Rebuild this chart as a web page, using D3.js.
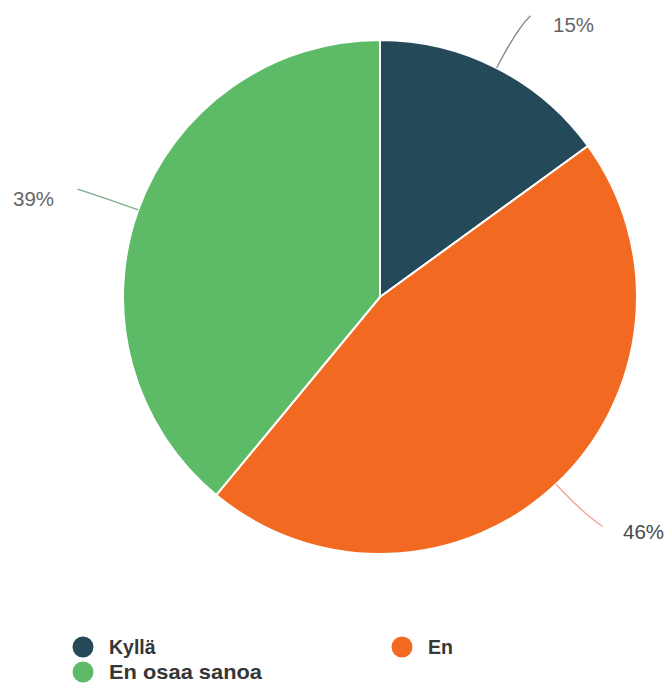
<!DOCTYPE html>
<html>
<head>
<meta charset="utf-8">
<script src="https://cdn.jsdelivr.net/npm/d3@7"></script>
<style>
  html, body { margin: 0; padding: 0; background: #fff; }
  svg { display: block; }
</style>
</head>
<body>
<div id="chart"></div>
<script>
// Survey answers (percent)
const categories = ["Kyllä", "En", "En osaa sanoa"];
const values = [15, 46, 39];
const labels = ["15%", "46%", "39%"];
const colors = ["#244a5a", "#f26a21", "#5dbb68"];

const width = 671, height = 683;
const cx = 380, cy = 297, radius = 257;

const svg = d3.select("#chart").append("svg")
  .attr("width", width).attr("height", height);

const pie = d3.pie().sort(null).value(d => d)(values);
const arc = d3.arc().innerRadius(0).outerRadius(radius);

const g = svg.append("g").attr("transform", `translate(${cx},${cy})`);

g.selectAll("path.slice").data(pie).join("path")
  .attr("class", "slice")
  .attr("d", arc)
  .attr("fill", (d, i) => colors[i])
  .attr("stroke", "#fff")
  .attr("stroke-width", 2);

// Connector lines: leave the rim at the slice midpoint, bend towards the label
const lineColors = ["#8c8c8c", "#f0a89e", "#7fab8c"];
const labelLayout = [
  { rEnd: 319, da: 0.020, rCtl: 300, tx: 553, ty: 32 },
  { rEnd: 320, da: -0.017, rCtl: 300, tx: 623, ty: 539 },
  { rEnd: 321, da: -0.003, rCtl: 290, tx: 13, ty: 206 }
];
const polar = (a, r) => [Math.sin(a) * r, -Math.cos(a) * r];

pie.forEach((d, i) => {
  const L = labelLayout[i];
  const mid = (d.startAngle + d.endAngle) / 2;
  const p0 = polar(mid, radius);
  const pc = polar(mid, L.rCtl);
  const p1 = polar(mid + L.da, L.rEnd);
  const path = d3.path();
  path.moveTo(p0[0], p0[1]);
  path.quadraticCurveTo(pc[0], pc[1], p1[0], p1[1]);
  g.append("path")
    .attr("d", path.toString())
    .attr("fill", "none")
    .attr("stroke", lineColors[i])
    .attr("stroke-width", 1.4);
  svg.append("text")
    .attr("x", L.tx).attr("y", L.ty)
    .attr("font-family", "'Liberation Sans', Arial, sans-serif")
    .attr("font-size", 20.5)
    .attr("fill", i === 1 ? "#4a4a4a" : "#666")
    .text(labels[i]);
});

// Legend (second row is set a little wider)
const legendPos = [[83, 647], [402, 647], [83, 672]];
const legendWidth = [null, null, 153];
const legend = svg.append("g");
categories.forEach((c, i) => {
  const [x, y] = legendPos[i];
  legend.append("circle")
    .attr("cx", x).attr("cy", y).attr("r", 10.5)
    .attr("fill", colors[i]);
  const t = legend.append("text")
    .attr("x", x + 26).attr("y", y + 7)
    .attr("font-family", "'Liberation Sans', Arial, sans-serif")
    .attr("font-size", i === 2 ? 20.5 : 19.5)
    .attr("font-weight", "bold")
    .attr("fill", "#363636")
    .text(c);
  if (legendWidth[i]) {
    t.attr("textLength", legendWidth[i]).attr("lengthAdjust", "spacingAndGlyphs");
  }
});
</script>
</body>
</html>
